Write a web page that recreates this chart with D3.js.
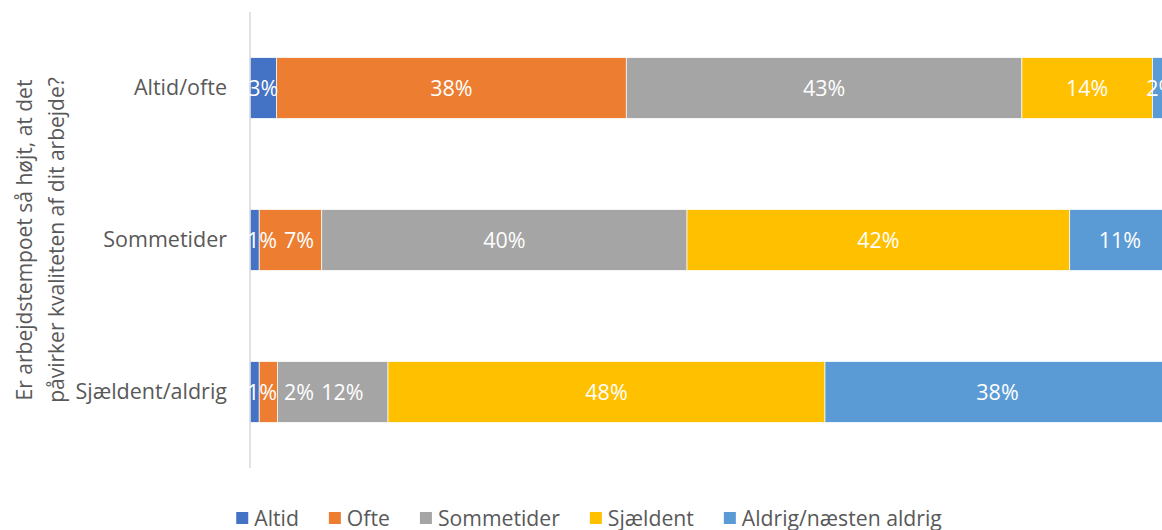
<!DOCTYPE html>
<html><head><meta charset="utf-8">
<script src="https://cdn.jsdelivr.net/npm/d3@7"></script>
<style>body{margin:0;background:#fff}svg{display:block}text{font-family:"Open Sans",sans-serif}</style>
</head><body><svg id="c" width="1162" height="530"></svg>
<script>
const categories = ["Altid/ofte", "Sommetider", "Sjældent/aldrig"];
const seriesNames = ["Altid", "Ofte", "Sommetider", "Sjældent", "Aldrig/næsten aldrig"];
const altid = [2.9, 1.0, 1.0];
const ofte = [38.0, 6.8, 2.0];
const sommetider = [43.0, 39.7, 12.0];
const sjaeldent = [14.2, 41.6, 47.5];
const aldrig = [1.9, 10.9, 37.5];
const colors = ["#4472C4", "#ED7D31", "#A5A5A5", "#FFC000", "#5B9BD5"];
const axisTitle = ["Er arbejdstempoet så højt, at det", "påvirker kvaliteten af dit arbejde?"];

const seriesVals = [altid, ofte, sommetider, sjaeldent, aldrig];
const rows = categories.map((c, i) => {
  const r = {cat: c};
  seriesNames.forEach((s, j) => r[s] = seriesVals[j][i]);
  return r;
});
const stack = d3.stack().keys(seriesNames)(rows);

const svg = d3.select("#c");
const x = d3.scaleLinear().domain([0, 100]).range([250, 1170]);
const y = d3.scaleBand().domain(categories).range([12, 468]).paddingInner(0.6).paddingOuter(0.3);

// bars
const g = svg.append("g");
stack.forEach((layer, j) => {
  g.selectAll(null).data(layer).join("rect")
    .attr("x", d => x(d[0]))
    .attr("y", (d, i) => y(categories[i]))
    .attr("width", d => x(d[1]) - x(d[0]))
    .attr("height", y.bandwidth())
    .attr("fill", colors[j])
    .attr("stroke", "#fff").attr("stroke-width", 0.7);
});

// axis line
svg.append("line").attr("x1", 250).attr("x2", 250).attr("y1", 12).attr("y2", 468)
  .attr("stroke", "#d9d9d9").attr("stroke-width", 1.5);

// category labels
const yAxis = d3.axisLeft(y).tickSize(0).tickPadding(23);
const ya = svg.append("g").attr("transform", "translate(250,0)").call(yAxis);
ya.select(".domain").remove();
ya.selectAll("text").attr("font-size", 21.5).attr("fill", "#595959").attr("font-family", "Open Sans");

// data labels with simple overlap avoidance
const lg = svg.append("g");
categories.forEach((c, i) => {
  let prevRight = -Infinity;
  stack.forEach((layer, j) => {
    const d = layer[i];
    const v = d[1] - d[0];
    const t = lg.append("text")
      .attr("font-size", 21.5).attr("fill", "#fff")
      .attr("y", y(c) + y.bandwidth() / 2).attr("dy", "0.36em")
      .text(Math.round(v) + "%");
    const w = t.node().getComputedTextLength();
    let left = (x(d[0]) + x(d[1])) / 2 - w / 2;
    left = Math.max(left, x(0) - 3, prevRight + 7);
    t.attr("x", left);
    prevRight = left + w;
  });
});

// axis title
const tg = svg.append("g").attr("transform", "translate(0,240) rotate(-90)");
axisTitle.forEach((line, k) => {
  tg.append("text").attr("x", 0).attr("y", 32 + k * 32)
    .attr("text-anchor", "middle").attr("font-size", 21).attr("fill", "#595959").text(line);
});

// legend
const leg = svg.append("g");
let lx = 0;
seriesNames.forEach((s, j) => {
  const it = leg.append("g").attr("transform", `translate(${lx},0)`);
  it.append("rect").attr("x", 0).attr("y", 512).attr("width", 12).attr("height", 12).attr("fill", colors[j]);
  const t = it.append("text").attr("x", 18).attr("y", 526).attr("font-size", 21.2).attr("fill", "#595959").text(s);
  lx += 18 + t.node().getComputedTextLength() + 30;
});
const total = lx - 30;
leg.attr("transform", `translate(${589 - total / 2},0)`);
</script></body></html>
